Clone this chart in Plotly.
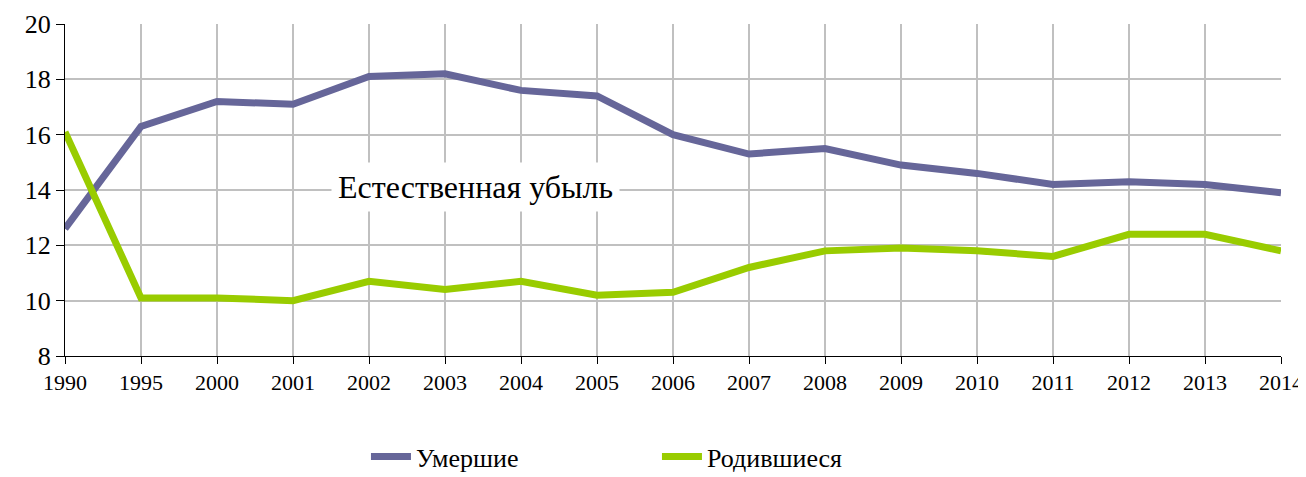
import plotly.graph_objects as go

years = ["1990", "1995", "2000", "2001", "2002", "2003", "2004", "2005", "2006",
         "2007", "2008", "2009", "2010", "2011", "2012", "2013", "2014"]
deaths = [12.6, 16.3, 17.2, 17.1, 18.1, 18.2, 17.6, 17.4, 16.0,
          15.3, 15.5, 14.9, 14.6, 14.2, 14.3, 14.2, 13.9]
births = [16.1, 10.1, 10.1, 10.0, 10.7, 10.4, 10.7, 10.2, 10.3,
          11.2, 11.8, 11.9, 11.8, 11.6, 12.4, 12.4, 11.8]
y_ticks = [8, 10, 12, 14, 16, 18, 20]
series_names = ["Умершие", "Родившиеся"]
annotation_text = "Естественная убыль"

FONT = "Liberation Serif, Times New Roman, serif"

fig = go.Figure()
fig.add_trace(go.Scatter(x=years, y=deaths, mode="lines", name=series_names[0],
                         line=dict(color="#666699", width=7)))
fig.add_trace(go.Scatter(x=years, y=births, mode="lines", name=series_names[1],
                         line=dict(color="#99CC00", width=7)))

fig.add_annotation(x=5.40, y=14.1, xref="x", yref="y", text=annotation_text,
                   showarrow=False, bgcolor="white", borderpad=6,
                   font=dict(family=FONT, size=32, color="black"))

fig.update_layout(
    width=1298, height=469,
    margin=dict(l=57, r=25, t=16, b=121, autoexpand=False),
    paper_bgcolor="white", plot_bgcolor="white",
    font=dict(family=FONT, color="black"),
    showlegend=True,
    legend=dict(orientation="h", x=0.2475, xanchor="left", y=-0.232, yanchor="top",
                font=dict(family=FONT, size=26, color="black"),
                entrywidth=236, entrywidthmode="pixels",
                itemwidth=40, bgcolor="rgba(0,0,0,0)"),
)
fig.update_xaxes(type="category", range=[0, 16], showgrid=True, gridcolor="#C0C0C0",
                 gridwidth=2, showline=True, linecolor="black", linewidth=1,
                 ticks="outside", ticklen=7, tickcolor="black", automargin=False,
                 tickfont=dict(family=FONT, size=22, color="black"), zeroline=False)
fig.update_yaxes(range=[8, 20], tickvals=y_ticks, showgrid=True, gridcolor="#C0C0C0",
                 gridwidth=2, showline=True, linecolor="black", linewidth=1,
                 ticks="outside", ticklen=8, tickcolor="black", automargin=False,
                 tickfont=dict(family=FONT, size=26, color="black"), zeroline=False)

fig.write_html("out.html")
